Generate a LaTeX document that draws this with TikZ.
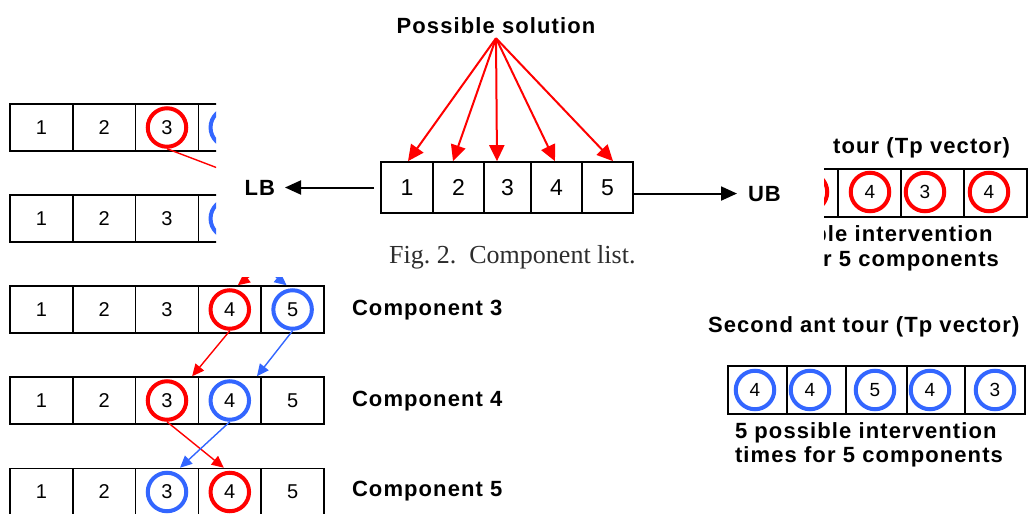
\documentclass[tikz,border=0pt]{standalone}
\usepackage{fontspec}
\setmainfont{Liberation Serif}
\newfontfamily\labfont[LetterSpace=5]{Liberation Sans}
\newfontfamily\numfont{Liberation Sans}
\usetikzlibrary{arrows.meta}
\definecolor{tourred}{RGB}{255,0,0}
\definecolor{tourblue}{RGB}{51,102,255}
\definecolor{captiongray}{RGB}{45,45,45}

\tikzset{
  lcell/.style={draw, line width=1.5pt, inner sep=0pt, minimum width=62.8pt,
    minimum height=47pt, font=\numfont\fontsize{20}{20}\selectfont},
  mcell/.style={draw, line width=1.7pt, inner sep=0pt, minimum height=51pt,
    font=\numfont\fontsize{23}{23}\selectfont},
  rcell/.style={draw, line width=1.5pt, inner sep=0pt, minimum height=48pt},
  ring/.style={circle, draw=#1, line width=4pt, minimum size=38.5pt, inner sep=0pt,
    font=\numfont\fontsize{19}{19}\selectfont},
  lab/.style={font=\labfont\bfseries\fontsize{22}{26}\selectfont, inner sep=0pt, outer sep=0pt},
  moveline/.style={draw=#1, line width=1.4pt, -{Triangle[length=12pt,width=11pt]}},
  solarrow/.style={draw=tourred, line width=2pt, -{Triangle[length=16pt,width=15pt]}},
  bound/.style={draw=black, line width=2pt, -{Triangle[length=16pt,width=14pt]}},
}

\begin{document}
\begin{tikzpicture}[x=1pt,y=-1pt]
\useasboundingbox (0,0) rectangle (1029,514);

% ---------------- ant tours behind the component list ----------------
\begin{scope}
  % everything except the area taken by the component list
  \clip (-10,-10) -- (1040,-10) -- (1040,530) -- (-10,530) -- cycle
        (216,-5) -- (216,277) -- (824,277) -- (824,-5) -- cycle;

  % component rows
  \foreach \r/\y in {A/127.5, B/218.5, C/309.5, D/400.5, E/492}
    \foreach \i in {1,...,5}
      \node[lcell] (\r\i) at ({41.4+62.8*(\i-1)}, \y) {\i};

  % selected intervention times
  \node[ring=tourred]  (cA3) at (A3) {};
  \node[ring=tourblue] (cA4) at (A4) {};
  \node[ring=tourblue] (cB4) at (B4) {};
  \node[ring=tourred]  (cC4) at (C4) {};
  \node[ring=tourblue] (cC5) at (C5) {};
  \node[ring=tourred]  (cD3) at (D3) {};
  \node[ring=tourblue] (cD4) at (D4) {};
  \node[ring=tourblue] (cE3) at (E3) {};
  \node[ring=tourred]  (cE4) at (E4) {};

  % moves from one component to the next
  \draw[moveline=tourred]  (cA3.south) -- ([xshift=-6pt]B5.north);
  \draw[moveline=tourred]  (B5.south) -- ([xshift=8pt]C4.north);
  \draw[moveline=tourblue] (cB4.south) -- ([xshift=-6pt]C5.north);
  \draw[moveline=tourred]  (cC4.south) -- ([xshift=-7pt]D3.north east);
  \draw[moveline=tourblue] (cC5.south) -- ([xshift=-5pt]D4.north east);
  \draw[moveline=tourred]  (cD3.south) -- ([xshift=-6pt]E4.north);
  \draw[moveline=tourblue] (cD4.south) -- ([xshift=13pt]E3.north);

  \node[lab, anchor=base west] (lC) at (352,315) {Component 3};
  \node[lab, anchor=base west] (lD) at (352,406) {Component 4};
  \node[lab, anchor=base west] (lE) at (352,496) {Component 5};

  % first ant tour
  \node[lab, anchor=base east] (t1) at (1010,153) {tour (Tp vector)};
  \foreach \i/\a/\b in {1/712/775, 2/775/838, 3/838/901, 4/901/964, 5/964/1027}
    \node[rcell, minimum width={\b-\a}] (F\i) at ({(\a+\b)/2}, 193) {};
  \node[ring=tourred] (f2) at (808,192) {};
  \node[ring=tourred] (f3) at (870,192) {4};
  \node[ring=tourred] (f4) at (925,192) {3};
  \node[ring=tourred] (f5) at (989,192) {4};
  \node[lab, anchor=base west] (n1a) at (731,241) {5 possible intervention};
  \node[lab, anchor=base west] (n1b) at (731,266) {times for 5 components};

  % second ant tour
  \node[lab, anchor=base west] (t2) at (708,332) {Second ant tour (Tp vector)};
  \foreach \i/\a/\b in {1/728/787, 2/787/846, 3/846/907, 4/907/965, 5/965/1025}
    \node[rcell, minimum width={\b-\a}] (G\i) at ({(\a+\b)/2}, 390) {};
  \node[ring=tourblue] (g1) at (755,390) {4};
  \node[ring=tourblue] (g2) at (810,390) {4};
  \node[ring=tourblue] (g3) at (875,390) {5};
  \node[ring=tourblue] (g4) at (930,390) {4};
  \node[ring=tourblue] (g5) at (995,390) {3};
  \node[lab, anchor=base west] (n2a) at (735,438) {5 possible intervention};
  \node[lab, anchor=base west] (n2b) at (735,462) {times for 5 components};
\end{scope}

% ---------------- component list ----------------
\foreach \i/\a/\b in {1/381/433, 2/433/484, 3/484/531, 4/531/582, 5/582/633}
  \node[mcell, minimum width={\b-\a}] (M\i) at ({(\a+\b)/2}, 187.5) {\i};

\node[lab, anchor=base] (ps) at (496,33) {Possible solution};
\foreach \k/\dx in {1/1, 2/-5.5, 3/-10.5, 4/-1.5, 5/5.5}
  \draw[solarrow] ([yshift=-5pt]ps.south) -- ([xshift=\dx pt]M\k.north);

\node[lab, anchor=base east] (LB) at (275,195) {LB};
\node[lab, anchor=base west] (UB) at (748,201) {UB};
\draw[bound] ([xshift=-6pt]M1.west) -- ([xshift=10pt]LB.east |- M1.west);
\draw[bound] (M5.east |- UB.west) -- ([xshift=-11pt]UB.west);

\node[anchor=base west, inner sep=0pt, text=captiongray,
  font=\fontsize{26}{30}\selectfont] (cap) at (389,263) {Fig.~2.\ \ Component list.};
\end{tikzpicture}
\end{document}
